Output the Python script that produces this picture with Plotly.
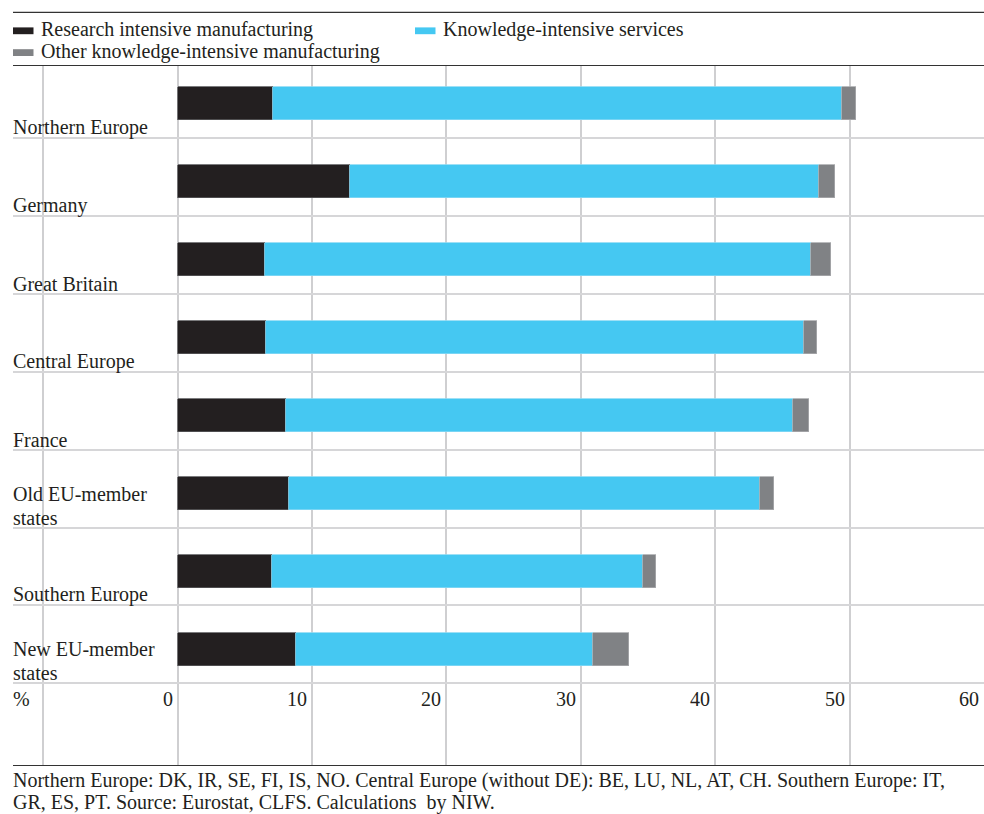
import plotly.graph_objects as go

categories = ["Northern Europe", "Germany", "Great Britain", "Central Europe", "France",
              "Old EU-member<br>states", "Southern Europe", "New EU-member<br>states"]
research_intensive = [7.1, 12.8, 6.5, 6.6, 8.1, 8.3, 7.0, 8.8]
knowledge_services = [42.3, 34.9, 40.6, 40.0, 37.7, 35.0, 27.6, 22.1]
other_manufacturing = [1.1, 1.2, 1.5, 1.0, 1.2, 1.1, 1.0, 2.7]
series_names = ["Research intensive manufacturing", "Knowledge-intensive services",
                "Other knowledge-intensive manufacturing"]
tick_values = [0, 10, 20, 30, 40, 50, 60]
tick_labels = ["0", "10", "20", "30", "40", "50", "60"]
unit_label = "%"
footnote_lines = ["Northern Europe: DK, IR, SE, FI, IS, NO. Central Europe (without DE): BE, LU, NL, AT, CH. Southern Europe: IT,",
                  "GR, ES, PT. Source: Eurostat, CLFS. Calculations  by NIW."]

colors = ["#231f20", "#45c8f2", "#808285"]
line_colors = ["#5a5a5c", "#86d8f4", "#a9aaad"]
FONT = "Liberation Serif, Times New Roman, serif"
TXT = "#231f20"

W, H = 984, 814
ML, MR, MT, MB = 13, 0, 66, 49
PH = H - MT - MB

pos = list(range(len(categories)))
fig = go.Figure()
for name, vals, c, lc in zip(series_names, [research_intensive, knowledge_services, other_manufacturing],
                             colors, line_colors):
    fig.add_trace(go.Bar(
        y=pos, x=vals, name=name, orientation="h",
        marker=dict(color=c, line=dict(color=lc, width=0.8)),
        width=0.424, offset=-0.152, showlegend=False,
    ))

band_px = 77.9
sep0_px = 138  # pixel of first separator
y_top = 0.5 - (sep0_px - MT) / band_px
y_bot = 0.5 + ((H - MB) - sep0_px) / band_px

annotations = []
shapes = []

def py(pix):
    return (H - MB - pix) / PH

# top rule
shapes.append(dict(type="line", xref="paper", yref="paper", x0=0, x1=1, y0=py(12.3), y1=py(12.3),
                   line=dict(color="#333333", width=1.3)))

# manual legend
leg = [(13, 30.8, 0), (415, 30.8, 1), (13, 52.6, 2)]
for x_px, y_px, idx in leg:
    x0 = (x_px - ML) / (W - ML - MR)
    x1 = (x_px + 20.5 - ML) / (W - ML - MR)
    shapes.append(dict(type="rect", xref="paper", yref="paper", x0=x0, x1=x1,
                       y0=py(y_px - 3.4), y1=py(y_px + 3.4), fillcolor=colors[idx], line=dict(width=0)))
    annotations.append(dict(xref="paper", yref="paper", x=(x_px + 26 - ML) / (W - ML - MR),
                            y=py(y_px - 1.5), xanchor="left", yanchor="middle", showarrow=False,
                            text=series_names[idx], font=dict(family=FONT, size=20, color=TXT)))

# category labels (bottom-aligned in each band)
for i, cat in enumerate(categories):
    lines = cat.split("<br>")
    for k, ln in enumerate(reversed(lines)):
        annotations.append(dict(xref="paper", yref="y", x=0, y=i + 0.5, xanchor="left", yanchor="bottom",
                                xshift=-2, yshift=-3 + 24 * k, showarrow=False, text=ln,
                                font=dict(family=FONT, size=20, color=TXT)))

# tick labels
annotations.append(dict(xref="paper", yref="paper", x=0, y=py(699), xanchor="left", yanchor="middle",
                        xshift=-2, showarrow=False, text=unit_label, font=dict(family=FONT, size=20, color=TXT)))
for v, t in zip(tick_values, tick_labels):
    annotations.append(dict(xref="x", yref="paper", x=v, y=py(699), xanchor="right", yanchor="middle",
                            xshift=-3, showarrow=False, text=t, font=dict(family=FONT, size=20, color=TXT)))

# footnote
for k, ln in enumerate(footnote_lines):
    annotations.append(dict(xref="paper", yref="paper", x=0, y=py(780 + 22.5 * k), xanchor="left",
                            yanchor="middle", xshift=-2, showarrow=False, text=ln,
                            font=dict(family=FONT, size=20, color=TXT)))

fig.update_layout(
    barmode="stack",
    width=W, height=H,
    margin=dict(l=ML, r=MR, t=MT, b=MB, pad=0),
    paper_bgcolor="white", plot_bgcolor="white",
    font=dict(family=FONT, size=20, color=TXT),
    xaxis=dict(range=[-12.25, 60], tick0=-10, dtick=10, showgrid=True, gridcolor="#cfcfd1", gridwidth=1.5,
               showticklabels=False, ticks="", zeroline=False,
               showline=True, mirror=True, linecolor="#333333", linewidth=1.3),
    yaxis=dict(range=[y_bot, y_top], tickmode="array", tickvals=[i + 0.5 for i in range(len(categories))],
               showgrid=True, gridcolor="#d6d6d8", gridwidth=1.5, showticklabels=False, ticks="",
               zeroline=False, showline=False),
    shapes=shapes,
    annotations=annotations,
    bargap=0,
)

fig.write_html("out.html", config={"displayModeBar": False},
               post_script="document.body.style.margin='0';document.body.style.overflow='hidden';")
